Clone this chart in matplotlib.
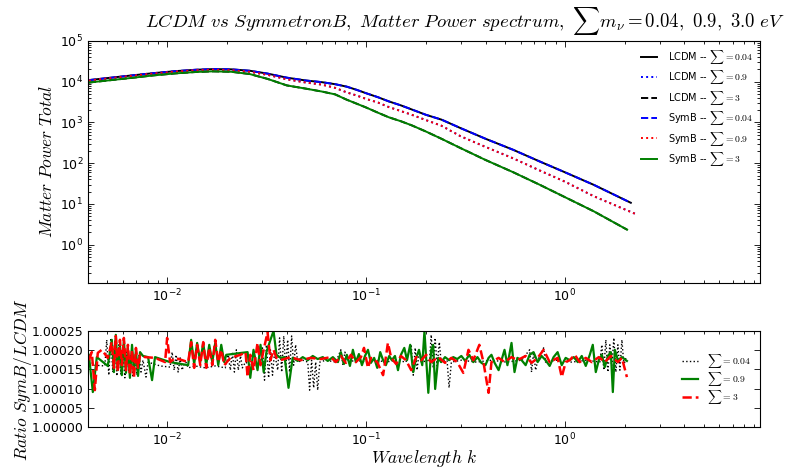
import matplotlib
matplotlib.use("Agg")
import matplotlib.pyplot as plt
from matplotlib.ticker import FixedLocator, FormatStrFormatter, LogLocator, NullFormatter

plt.rcParams["mathtext.fontset"] = "cm"
plt.rcParams["font.family"] = ["DejaVu Sans"]

# ---------------------------------------------------------------- power spectra
k_004 = [0.00404, 0.005, 0.0065, 0.0085, 0.011, 0.014, 0.017, 0.021, 0.026, 0.032,
         0.04, 0.05, 0.06, 0.07, 0.08, 0.09, 0.1, 0.115, 0.13, 0.15,
         0.17, 0.2, 0.24, 0.3, 0.4, 0.55, 0.75, 1.0, 1.4, 2.15]
p_lcdm_004 = [10965, 12300, 14125, 16218, 18197, 19724, 20417, 20184, 18621, 15849,
              12589, 10715, 9772, 8710, 7586, 6310, 5248, 4169, 3311, 2630,
              2089, 1549, 1175, 724, 398, 214, 110, 60.3, 29.5, 10.7]
p_symb_004 = [10967, 12302, 14127, 16221, 18200, 19727, 20420, 20187, 18624, 15852,
              12591, 10717, 9774, 8711, 7587, 6311, 5249, 4170, 3312, 2630,
              2089, 1549, 1175, 724, 398, 214, 110, 60.3, 29.5, 10.7]

k_09 = [0.00404, 0.005, 0.0065, 0.0085, 0.011, 0.014, 0.017, 0.021, 0.026, 0.032,
        0.04, 0.05, 0.06, 0.07, 0.08, 0.09, 0.1, 0.115, 0.13, 0.15,
        0.17, 0.2, 0.24, 0.3, 0.4, 0.55, 0.75, 1.0, 1.4, 2.26]
p_lcdm_09 = [10715, 12023, 13804, 15849, 17783, 19275, 19724, 19275, 17579, 14791,
             11482, 9550, 8511, 7079, 5495, 4571, 3802, 3090, 2399, 1905,
             1549, 1148, 832, 457, 251, 132, 66.1, 35.5, 15.5, 5.75]
p_symb_09 = [10717, 12025, 13806, 15852, 17786, 19278, 19727, 19278, 17582, 14793,
             11484, 9551, 8512, 7080, 5496, 4572, 3803, 3091, 2399, 1905,
             1549, 1148, 832, 457, 251, 132, 66.1, 35.5, 15.5, 5.75]

k_3 = [0.00404, 0.005, 0.0065, 0.0085, 0.011, 0.014, 0.017, 0.021, 0.026, 0.032,
       0.04, 0.05, 0.06, 0.07, 0.08, 0.09, 0.1, 0.115, 0.13, 0.15,
       0.17, 0.2, 0.24, 0.3, 0.4, 0.55, 0.75, 1.0, 1.4, 2.06]
p_lcdm_3 = [9550, 10715, 12303, 14289, 16032, 17378, 17989, 17579, 15488, 11749,
            8128, 6761, 5754, 4898, 3631, 2884, 2344, 1738, 1349, 1072,
            851, 603, 398, 234, 120, 60.3, 29.5, 14.8, 6.61, 2.34]
p_symb_3 = [9552, 10717, 12305, 14291, 16035, 17381, 17992, 17582, 15491, 11751,
            8129, 6762, 5755, 4899, 3632, 2884, 2344, 1738, 1349, 1072,
            851, 603, 398, 234, 120, 60.3, 29.5, 14.8, 6.61, 2.34]

# ---------------------------------------------------------------- SymB / LCDM ratios
rk_004 = [0.00404, 0.00433, 0.00486, 0.00497, 0.00509, 0.00521, 0.00533, 0.00546, 0.00559, 0.00572,
          0.00585, 0.00599, 0.00613, 0.00628, 0.00643, 0.00658, 0.00673, 0.00689, 0.00705, 0.00722,
          0.00739, 0.00756, 0.00783, 0.00802, 0.00922, 0.01035, 0.01060, 0.01085, 0.01110, 0.01136,
          0.01163, 0.01190, 0.01233, 0.01276, 0.01384, 0.01555, 0.01746, 0.01961, 0.0203, 0.0208,
          0.0213, 0.0218, 0.0223, 0.0228, 0.0234, 0.0239, 0.0248, 0.0262, 0.0295, 0.0302,
          0.0309, 0.0316, 0.0324, 0.0331, 0.0339, 0.0347, 0.0360, 0.0368, 0.0377, 0.0386,
          0.0395, 0.0404, 0.0413, 0.0423, 0.0433, 0.0443, 0.0454, 0.0481, 0.0510, 0.0521,
          0.0533, 0.0546, 0.0559, 0.0572, 0.0586, 0.0628, 0.0706, 0.0748, 0.0766, 0.0784,
          0.0812, 0.0890, 0.1000, 0.113, 0.126, 0.142, 0.159, 0.169, 0.173, 0.177,
          0.181, 0.185, 0.190, 0.209, 0.213, 0.218, 0.223, 0.228, 0.234, 0.239,
          0.256, 0.262, 0.269, 0.302, 0.360, 0.428, 0.509, 0.607, 0.666, 0.681,
          0.697, 0.714, 0.731, 0.783, 0.801, 0.910, 1.084, 1.291, 1.501, 1.537,
          1.573, 1.610, 1.648, 1.686, 1.726, 1.766, 1.808, 1.851, 1.894, 1.939,
          1.985, 2.031]
ratio_004 = [1.000174, 1.000161, 1.000159, 1.000227, 1.000135, 1.000232, 1.000143, 1.000227, 1.000133, 1.000214,
             1.000138, 1.000201, 1.000128, 1.000195, 1.000143, 1.000188, 1.000133, 1.000185, 1.000135, 1.000188,
             1.000143, 1.000174, 1.000130, 1.000169, 1.000159, 1.000156, 1.000195, 1.000148, 1.000188, 1.000143,
             1.000180, 1.000148, 1.000174, 1.000154, 1.000159, 1.000154, 1.000159, 1.000154, 1.000188, 1.000148,
             1.000195, 1.000143, 1.000201, 1.000148, 1.000185, 1.000154, 1.000169, 1.000161, 1.000167, 1.000206,
             1.000122, 1.000214, 1.000128, 1.000201, 1.000135, 1.000195, 1.000148, 1.000232, 1.000143, 1.000237,
             1.000154, 1.000227, 1.000143, 1.000237, 1.000161, 1.000214, 1.000169, 1.000174, 1.000169, 1.000096,
             1.000174, 1.000102, 1.000169, 1.000096, 1.000169, 1.000174, 1.000169, 1.000201, 1.000161, 1.000195,
             1.000169, 1.000174, 1.000169, 1.000174, 1.000169, 1.000174, 1.000169, 1.000214, 1.000135, 1.000206,
             1.000148, 1.000195, 1.000169, 1.000174, 1.000240, 1.000154, 1.000232, 1.000159, 1.000221, 1.000169,
             1.000174, 1.000102, 1.000169, 1.000174, 1.000169, 1.000174, 1.000169, 1.000174, 1.000201, 1.000143,
             1.000195, 1.000148, 1.000174, 1.000206, 1.000169, 1.000174, 1.000169, 1.000174, 1.000169, 1.000214,
             1.000148, 1.000227, 1.000143, 1.000214, 1.000154, 1.000232, 1.000143, 1.000214, 1.000148, 1.000227,
             1.000161, 1.000180]

rk_09 = [0.00404, 0.00423, 0.00443, 0.00503, 0.00527, 0.00540, 0.00552, 0.00565, 0.00579, 0.00592,
         0.00606, 0.00621, 0.00635, 0.00650, 0.00666, 0.00681, 0.00697, 0.00714, 0.00731, 0.00756,
         0.00802, 0.00840, 0.00869, 0.01035, 0.01276, 0.01321, 0.01368, 0.01416, 0.01468, 0.01519,
         0.01573, 0.01629, 0.01687, 0.01746, 0.01808, 0.01872, 0.01938, 0.01984, 0.0254, 0.0262,
         0.0272, 0.0285, 0.0295, 0.0306, 0.0316, 0.0331, 0.0343, 0.0355, 0.0372, 0.0390,
         0.0408, 0.0428, 0.0454, 0.0481, 0.0510, 0.0540, 0.0572, 0.0607, 0.0643, 0.0682,
         0.0723, 0.0748, 0.0775, 0.0802, 0.0831, 0.0860, 0.0890, 0.0922, 0.0955, 0.0989,
         0.1024, 0.106, 0.110, 0.114, 0.118, 0.122, 0.126, 0.131, 0.135, 0.140,
         0.145, 0.150, 0.156, 0.161, 0.167, 0.173, 0.179, 0.185, 0.192, 0.197,
         0.206, 0.213, 0.218, 0.223, 0.231, 0.239, 0.250, 0.262, 0.275, 0.288,
         0.302, 0.316, 0.331, 0.347, 0.364, 0.381, 0.399, 0.414, 0.428, 0.444,
         0.465, 0.481, 0.498, 0.515, 0.540, 0.559, 0.578, 0.607, 0.636, 0.666,
         0.697, 0.731, 0.765, 0.801, 0.840, 0.879, 0.921, 0.966, 1.011, 1.059,
         1.110, 1.163, 1.218, 1.276, 1.337, 1.384, 1.433, 1.484, 1.537, 1.591,
         1.648, 1.706, 1.746, 1.787, 1.851, 1.939, 2.055]
ratio_09 = [1.000188, 1.000091, 1.000182, 1.000159, 1.000227, 1.000143, 1.000240, 1.000148, 1.000214, 1.000135,
            1.000227, 1.000141, 1.000206, 1.000128, 1.000214, 1.000143, 1.000201, 1.000133, 1.000195, 1.000185,
            1.000182, 1.000122, 1.000182, 1.000169, 1.000161, 1.000227, 1.000164, 1.000219, 1.000169, 1.000219,
            1.000161, 1.000214, 1.000169, 1.000219, 1.000161, 1.000214, 1.000169, 1.000188, 1.000195, 1.000128,
            1.000201, 1.000148, 1.000214, 1.000143, 1.000195, 1.000227, 1.000250, 1.000188, 1.000180, 1.000182,
            1.000102, 1.000180, 1.000172, 1.000182, 1.000174, 1.000185, 1.000177, 1.000182, 1.000172, 1.000182,
            1.000169, 1.000195, 1.000164, 1.000188, 1.000159, 1.000201, 1.000169, 1.000190, 1.000161, 1.000185,
            1.000201, 1.000167, 1.000180, 1.000154, 1.000195, 1.000174, 1.000161, 1.000185, 1.000174, 1.000185,
            1.000148, 1.000188, 1.000206, 1.000174, 1.000214, 1.000143, 1.000180, 1.000201, 1.000161, 1.000250,
            1.000089, 1.000201, 1.000214, 1.000099, 1.000180, 1.000169, 1.000182, 1.000174, 1.000182, 1.000177,
            1.000185, 1.000172, 1.000188, 1.000169, 1.000182, 1.000167, 1.000161, 1.000180, 1.000188, 1.000167,
            1.000148, 1.000174, 1.000201, 1.000161, 1.000219, 1.000143, 1.000180, 1.000174, 1.000161, 1.000188,
            1.000195, 1.000169, 1.000185, 1.000174, 1.000159, 1.000182, 1.000195, 1.000161, 1.000180, 1.000174,
            1.000182, 1.000169, 1.000185, 1.000159, 1.000188, 1.000214, 1.000143, 1.000174, 1.000188, 1.000156,
            1.000185, 1.000195, 1.000091, 1.000201, 1.000174, 1.000182, 1.000172]

rk_3 = [0.00404, 0.00418, 0.00433, 0.00448, 0.00469, 0.00503, 0.00527, 0.00540, 0.00552, 0.00565,
        0.00579, 0.00592, 0.00606, 0.00621, 0.00635, 0.00650, 0.00666, 0.00681, 0.00697, 0.00714,
        0.00731, 0.00774, 0.00869, 0.00977, 0.01000, 0.01035, 0.01097, 0.01276, 0.01321, 0.01368,
        0.01416, 0.01468, 0.01519, 0.01573, 0.01629, 0.01687, 0.01746, 0.01808, 0.01872, 0.01938,
        0.0208, 0.0234, 0.0248, 0.0254, 0.0262, 0.0272, 0.0285, 0.0295, 0.0306, 0.0320,
        0.0331, 0.0343, 0.0355, 0.0372, 0.0418, 0.0470, 0.0527, 0.0593, 0.0666, 0.0706,
        0.0748, 0.0793, 0.0840, 0.0890, 0.0944, 0.0978, 0.1024, 0.106, 0.114, 0.122,
        0.126, 0.129, 0.134, 0.142, 0.150, 0.159, 0.169, 0.179, 0.190, 0.201,
        0.213, 0.231, 0.250, 0.269, 0.288, 0.309, 0.328, 0.347, 0.372, 0.390,
        0.414, 0.428, 0.465, 0.498, 0.540, 0.578, 0.636, 0.681, 0.731, 0.783,
        0.840, 0.921, 0.966, 1.011, 1.059, 1.123, 1.190, 1.276, 1.368, 1.484,
        1.591, 1.706, 1.851, 1.939, 2.055]
ratio_3 = [1.000174, 1.000195, 1.000096, 1.000193, 1.000201, 1.000180, 1.000221, 1.000154, 1.000237, 1.000143,
           1.000227, 1.000161, 1.000232, 1.000148, 1.000214, 1.000135, 1.000201, 1.000128, 1.000206, 1.000154,
           1.000188, 1.000182, 1.000180, 1.000169, 1.000232, 1.000169, 1.000180, 1.000169, 1.000221, 1.000154,
           1.000214, 1.000161, 1.000221, 1.000154, 1.000206, 1.000161, 1.000227, 1.000169, 1.000201, 1.000161,
           1.000180, 1.000188, 1.000195, 1.000130, 1.000188, 1.000148, 1.000219, 1.000161, 1.000201, 1.000247,
           1.000174, 1.000201, 1.000180, 1.000174, 1.000182, 1.000174, 1.000180, 1.000177, 1.000182, 1.000169,
           1.000185, 1.000167, 1.000188, 1.000169, 1.000182, 1.000206, 1.000154, 1.000180, 1.000169, 1.000135,
           1.000182, 1.000219, 1.000180, 1.000164, 1.000185, 1.000174, 1.000148, 1.000182, 1.000174, 1.000188,
           1.000169, 1.000182, 1.000167, 1.000180, 1.000169, 1.000141, 1.000201, 1.000174, 1.000214, 1.000169,
           1.000089, 1.000169, 1.000180, 1.000169, 1.000182, 1.000174, 1.000185, 1.000167, 1.000180, 1.000201,
           1.000169, 1.000180, 1.000130, 1.000169, 1.000174, 1.000188, 1.000169, 1.000180, 1.000169, 1.000182,
           1.000169, 1.000185, 1.000169, 1.000180, 1.000130]

ratio_ticks = [1.00000, 1.00005, 1.00010, 1.00015, 1.00020, 1.00025]

# ---------------------------------------------------------------- figure
fig = plt.figure(figsize=(7.85, 4.68), dpi=100)
ax1 = fig.add_axes([88 / 785, 1 - 283 / 468, 672 / 785, 242 / 468])
ax2 = fig.add_axes([88 / 785, 1 - 427 / 468, 672 / 785, 96 / 468])

ax1.plot(k_004, p_lcdm_004, color="black", lw=1.4, ls="-", label=r"LCDM -- $\sum=0.04$")
ax1.plot(k_09, p_lcdm_09, color="blue", lw=1.4, ls=":", label=r"LCDM -- $\sum=0.9$")
ax1.plot(k_3, p_lcdm_3, color="black", lw=1.4, ls="--", label=r"LCDM -- $\sum=3$")
ax1.plot(k_004, p_symb_004, color="blue", lw=1.4, ls="--", label=r"SymB -- $\sum=0.04$")
ax1.plot(k_09, p_symb_09, color="red", lw=1.4, ls=":", label=r"SymB -- $\sum=0.9$")
ax1.plot(k_3, p_symb_3, color="green", lw=1.4, ls="-", label=r"SymB -- $\sum=3$")

ax1.set_xscale("log")
ax1.set_yscale("log")
ax1.set_xlim(0.004, 9.6)
ax1.set_ylim(0.115, 1e5)
ax1.set_ylabel(r"$Matter\ Power\ Total$", fontsize=12.5)
ax1.yaxis.set_label_coords(-0.048, 0.5)
ax1.legend(loc="upper right", frameon=False, fontsize=7, handlelength=1.7,
           handletextpad=1.1, labelspacing=0.25, borderaxespad=0.3)

ax2.plot(rk_004, ratio_004, color="black", lw=1.0, ls=":", label=r"$\sum=0.04$")
ax2.plot(rk_09, ratio_09, color="green", lw=1.6, ls="-", label=r"$\sum=0.9$")
ax2.plot(rk_3, ratio_3, color="red", lw=1.8, ls="--", label=r"$\sum=3$")
ax2.set_xscale("log")
ax2.set_xlim(0.004, 9.6)
ax2.set_ylim(1.0, 1.00025)
ax2.yaxis.set_major_locator(FixedLocator(ratio_ticks))
ax2.yaxis.set_major_formatter(FormatStrFormatter("%.5f"))
ax2.set_ylabel(r"$Ratio\ SymB/LCDM$", fontsize=12.5)
ax2.yaxis.set_label_coords(-0.081, 0.5)
ax2.set_xlabel(r"$Wavelength\ k$", fontsize=12.5, labelpad=0)
ax2.legend(loc="center right", frameon=False, fontsize=7, handlelength=1.6,
           handletextpad=1.0, labelspacing=0.0, borderaxespad=0.5)

for ax in (ax1, ax2):
    ax.tick_params(which="both", direction="in", top=True, right=True, labelsize=9)
    ax.tick_params(which="major", length=4, width=0.6)
    ax.tick_params(which="minor", length=2, width=0.6)
    ax.xaxis.set_minor_locator(LogLocator(base=10, subs=range(2, 10), numticks=20))
    ax.xaxis.set_minor_formatter(NullFormatter())

fig.text(465 / 785, 1 - 27 / 468,
         r"$LCDM\ vs\ SymmetronB,\ Matter\ Power\ spectrum,\ \sum m_{\nu}=0.04,\ 0.9,\ 3.0\ eV$",
         fontsize=13.5, ha="center", va="baseline")

fig.savefig("out.png", dpi=100)
